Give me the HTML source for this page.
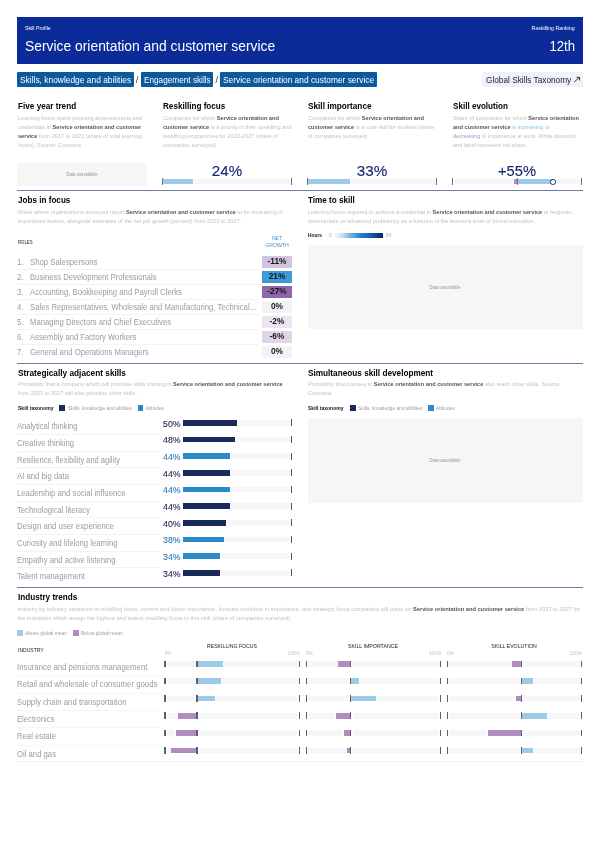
<!DOCTYPE html><html><head><meta charset="utf-8"><title>Skill Profile</title><style>
*{margin:0;padding:0;box-sizing:border-box}
html,body{width:600px;height:848px;background:#fff;overflow:hidden}
body{font-family:"Liberation Sans",sans-serif;position:relative;color:#111}
.abs{position:absolute;white-space:nowrap}
b{font-weight:bold}
.d b{color:#55555a}
</style></head><body>
<div class="abs" style="left:17px;top:17px;width:565.75px;height:46.5px;background:#0b2b98;"></div>
<div class="abs" style="top:25px;font-size:5.3px;line-height:6.36px;color:#fff;left:25px;transform-origin:0 50%;transform:scaleX(0.980);">Skill Profile</div>
<div class="abs" style="top:37px;font-size:15.4px;line-height:18.48px;color:#fff;left:25px;transform-origin:0 50%;transform:scaleX(0.900);">Service orientation and customer service</div>
<div class="abs" style="top:25px;font-size:5.3px;line-height:6.36px;color:#fff;right:25px;transform-origin:100% 50%;transform:scaleX(0.986);">Reskilling Ranking</div>
<div class="abs" style="top:37px;font-size:15.4px;line-height:18.48px;color:#fff;right:25px;transform-origin:100% 50%;transform:scaleX(0.851);">12th</div>
<div class="abs" style="left:17px;top:71.5px;width:117px;height:15.9px;background:#0d599e;border-radius:1px;"></div>
<div class="abs" style="top:75px;font-size:9.3px;line-height:11.16px;color:#fff;left:20px;transform-origin:0 50%;transform:scaleX(0.904);">Skills, knowledge and abilities</div>
<div class="abs" style="top:75px;font-size:9.3px;line-height:11.16px;color:#333;left:-13px;width:300px;text-align:center;transform-origin:50% 50%;">/</div>
<div class="abs" style="left:140.5px;top:71.5px;width:72.75px;height:15.9px;background:#0d599e;border-radius:1px;"></div>
<div class="abs" style="top:75px;font-size:9.3px;line-height:11.16px;color:#fff;left:143.75px;transform-origin:0 50%;transform:scaleX(0.884);">Engagement skills</div>
<div class="abs" style="top:75px;font-size:9.3px;line-height:11.16px;color:#333;left:66.75px;width:300px;text-align:center;transform-origin:50% 50%;">/</div>
<div class="abs" style="left:219.5px;top:71.5px;width:157.5px;height:15.9px;background:#0d599e;border-radius:1px;"></div>
<div class="abs" style="top:75px;font-size:9.3px;line-height:11.16px;color:#fff;left:222.5px;transform-origin:0 50%;transform:scaleX(0.900);">Service orientation and customer service</div>
<div class="abs" style="left:482px;top:71.5px;width:101px;height:15.9px;background:#edf3f9;border-radius:1px;"></div>
<div class="abs" style="top:75px;font-size:9.3px;line-height:11.16px;color:#1e1e22;left:486px;transform-origin:0 50%;transform:scaleX(0.888);">Global Skills Taxonomy</div>
<svg class="abs" style="left:572px;top:75px" width="10" height="9" viewBox="0 0 10 9"><path d="M2.2 6.9 L7.3 2.6 M4.5 2.3 L7.6 2.3 L7.6 5.4" fill="none" stroke="#1e1e22" stroke-width="0.85"/></svg>
<div class="abs" style="top:101px;font-size:8.4px;line-height:10.08px;color:#000;font-weight:bold;left:17.5px;transform-origin:0 50%;transform:scaleX(0.976);">Five year trend</div>
<div class="abs d" style="top:115px;font-size:5.7px;line-height:6.84px;color:#c2c2c6;left:17.5px;transform-origin:0 50%;transform:scaleX(0.985);">Learning hours spent pursuing assessements and</div>
<div class="abs d" style="top:124px;font-size:5.7px;line-height:6.84px;color:#c2c2c6;left:17.5px;transform-origin:0 50%;transform:scaleX(0.985);">credentials in <b>Service orientation and customer</b></div>
<div class="abs d" style="top:133px;font-size:5.7px;line-height:6.84px;color:#c2c2c6;left:17.5px;transform-origin:0 50%;transform:scaleX(0.985);"><b>service</b> from 2017 to 2022 (share of total learning</div>
<div class="abs d" style="top:142px;font-size:5.7px;line-height:6.84px;color:#c2c2c6;left:17.5px;transform-origin:0 50%;transform:scaleX(0.985);">hours). Source: Coursera.</div>
<div class="abs" style="top:101px;font-size:8.4px;line-height:10.08px;color:#000;font-weight:bold;left:162.5px;transform-origin:0 50%;transform:scaleX(0.970);">Reskilling focus</div>
<div class="abs d" style="top:115px;font-size:5.7px;line-height:6.84px;color:#c2c2c6;left:162.5px;transform-origin:0 50%;transform:scaleX(0.985);">Companies for which <b>Service orientation and</b></div>
<div class="abs d" style="top:124px;font-size:5.7px;line-height:6.84px;color:#c2c2c6;left:162.5px;transform-origin:0 50%;transform:scaleX(0.985);"><b>customer service</b> is a priority in their upskilling and</div>
<div class="abs d" style="top:133px;font-size:5.7px;line-height:6.84px;color:#c2c2c6;left:162.5px;transform-origin:0 50%;transform:scaleX(0.985);">reskilling programmes for 2023-2027 (share of</div>
<div class="abs d" style="top:142px;font-size:5.7px;line-height:6.84px;color:#c2c2c6;left:162.5px;transform-origin:0 50%;transform:scaleX(0.985);">companies surveyed)</div>
<div class="abs" style="top:101px;font-size:8.4px;line-height:10.08px;color:#000;font-weight:bold;left:307.5px;transform-origin:0 50%;transform:scaleX(0.982);">Skill importance</div>
<div class="abs d" style="top:115px;font-size:5.7px;line-height:6.84px;color:#c2c2c6;left:307.5px;transform-origin:0 50%;transform:scaleX(0.985);">Companies for which <b>Service orientation and</b></div>
<div class="abs d" style="top:124px;font-size:5.7px;line-height:6.84px;color:#c2c2c6;left:307.5px;transform-origin:0 50%;transform:scaleX(0.985);"><b>customer service</b> is a core skill for workers (share</div>
<div class="abs d" style="top:133px;font-size:5.7px;line-height:6.84px;color:#c2c2c6;left:307.5px;transform-origin:0 50%;transform:scaleX(0.985);">of companies surveyed)</div>
<div class="abs" style="top:101px;font-size:8.4px;line-height:10.08px;color:#000;font-weight:bold;left:452.5px;transform-origin:0 50%;transform:scaleX(0.966);">Skill evolution</div>
<div class="abs d" style="top:115px;font-size:5.7px;line-height:6.84px;color:#c2c2c6;left:452.5px;transform-origin:0 50%;transform:scaleX(0.985);">Share of companies for which <b>Service orientation</b></div>
<div class="abs d" style="top:124px;font-size:5.7px;line-height:6.84px;color:#c2c2c6;left:452.5px;transform-origin:0 50%;transform:scaleX(0.985);"><b>and customer service</b> <span style="color:#8fc3e0">is increasing</span> or</div>
<div class="abs d" style="top:133px;font-size:5.7px;line-height:6.84px;color:#c2c2c6;left:452.5px;transform-origin:0 50%;transform:scaleX(0.985);"><span style="color:#b48fc0">decreasing</span> in importance at work. White diamond</div>
<div class="abs d" style="top:142px;font-size:5.7px;line-height:6.84px;color:#c2c2c6;left:452.5px;transform-origin:0 50%;transform:scaleX(0.985);">and label represent net share.</div>
<div class="abs" style="left:17px;top:162.6px;width:129.8px;height:23.9px;background:#f6f6f7;border-radius:1px;"></div>
<div class="abs" style="top:172px;font-size:4.7px;line-height:5.64px;color:#96969a;left:-68.1px;width:300px;text-align:center;transform-origin:50% 50%;transform:scaleX(0.885);">Data unavailable</div>
<div class="abs" style="top:162px;font-size:15px;line-height:18px;color:#1a2872;left:76.9px;width:300px;text-align:center;transform-origin:50% 50%;transform:scaleX(1.009);-webkit-text-stroke:0.15px #1a2872;">24%</div>
<div class="abs" style="left:162px;top:178.7px;width:129.8px;height:5.7px;background:#f6f6f7;"></div>
<div class="abs" style="left:160.55px;top:178.2px;width:3.7px;height:6.7px;background:#fff;"></div>
<div class="abs" style="left:289.55px;top:178.2px;width:3.7px;height:6.7px;background:#fff;"></div>
<div class="abs" style="left:161px;top:178.2px;width:33.2px;height:6.7px;background:rgba(255,255,255,0.75);"></div>
<div class="abs" style="left:162px;top:178.7px;width:31.2px;height:5.7px;background:#9dcbe7;"></div>
<div class="abs" style="left:161.85px;top:178.2px;width:1.1px;height:6.7px;background:#6a737c;"></div>
<div class="abs" style="left:290.85px;top:178.2px;width:1.1px;height:6.7px;background:#6a737c;"></div>
<div class="abs" style="top:162px;font-size:15px;line-height:18px;color:#1a2872;left:222.25px;width:300px;text-align:center;transform-origin:50% 50%;transform:scaleX(1.016);-webkit-text-stroke:0.15px #1a2872;">33%</div>
<div class="abs" style="left:307.5px;top:178.7px;width:129.5px;height:5.7px;background:#f6f6f7;"></div>
<div class="abs" style="left:306.05px;top:178.2px;width:3.7px;height:6.7px;background:#fff;"></div>
<div class="abs" style="left:434.75px;top:178.2px;width:3.7px;height:6.7px;background:#fff;"></div>
<div class="abs" style="left:306.5px;top:178.2px;width:44.5px;height:6.7px;background:rgba(255,255,255,0.75);"></div>
<div class="abs" style="left:307.5px;top:178.7px;width:42.5px;height:5.7px;background:#9dcbe7;"></div>
<div class="abs" style="left:307.35px;top:178.2px;width:1.1px;height:6.7px;background:#6a737c;"></div>
<div class="abs" style="left:436.05px;top:178.2px;width:1.1px;height:6.7px;background:#6a737c;"></div>
<div class="abs" style="top:162px;font-size:15px;line-height:18px;color:#1a2872;left:367.25px;width:300px;text-align:center;transform-origin:50% 50%;transform:scaleX(0.980);-webkit-text-stroke:0.15px #1a2872;">+55%</div>
<div class="abs" style="left:452.5px;top:178.7px;width:129.5px;height:5.7px;background:#f6f6f7;"></div>
<div class="abs" style="left:451.05px;top:178.2px;width:3.7px;height:6.7px;background:#fff;"></div>
<div class="abs" style="left:515.75px;top:178.2px;width:3.7px;height:6.7px;background:#fff;"></div>
<div class="abs" style="left:579.75px;top:178.2px;width:3.7px;height:6.7px;background:#fff;"></div>
<div class="abs" style="left:513.25px;top:178.2px;width:41.25px;height:6.7px;background:rgba(255,255,255,0.75);"></div>
<div class="abs" style="left:514.25px;top:178.7px;width:3.25px;height:5.7px;background:#b08cc0;"></div>
<div class="abs" style="left:517.5px;top:178.7px;width:36px;height:5.7px;background:#9dcbe7;"></div>
<div class="abs" style="left:452.35px;top:178.2px;width:1.1px;height:6.7px;background:#6a737c;"></div>
<div class="abs" style="left:517.05px;top:178.2px;width:1.1px;height:6.7px;background:#6a737c;"></div>
<div class="abs" style="left:581.05px;top:178.2px;width:1.1px;height:6.7px;background:#6a737c;"></div>
<div class="abs" style="left:550.1px;top:179px;width:5.5px;height:5.5px;border-radius:50%;border:1.5px solid #1b2b78;background:#fff"></div>
<div class="abs" style="left:17px;top:189.5px;width:566px;height:1px;background:#6b7c9e;"></div>
<div class="abs" style="top:195px;font-size:8.4px;line-height:10.08px;color:#000;font-weight:bold;left:17.5px;transform-origin:0 50%;transform:scaleX(0.970);">Jobs in focus</div>
<div class="abs d" style="top:209px;font-size:5.7px;line-height:6.84px;color:#c2c2c6;left:17.5px;transform-origin:0 50%;transform:scaleX(0.985);">Roles where organizations surveyed report <b>Service orientation and customer service</b> to be increasing in</div>
<div class="abs d" style="top:218px;font-size:5.7px;line-height:6.84px;color:#c2c2c6;left:17.5px;transform-origin:0 50%;transform:scaleX(0.985);">importance fastest, alongside estimates of the net job growth (percent) from 2023 to 2027.</div>
<div class="abs" style="top:239px;font-size:5px;line-height:6px;color:#222;left:17.5px;transform-origin:0 50%;transform:scaleX(0.855);">ROLES</div>
<div class="abs" style="top:235px;font-size:5px;line-height:6px;color:#4a90c6;left:127px;width:300px;text-align:center;transform-origin:50% 50%;transform:scaleX(1.020);">NET</div>
<div class="abs" style="top:242px;font-size:5px;line-height:6px;color:#4a90c6;left:127px;width:300px;text-align:center;transform-origin:50% 50%;transform:scaleX(1.032);">GROWTH</div>
<div class="abs" style="top:257px;font-size:8.8px;line-height:10.56px;color:#9c9ca0;left:17px;transform-origin:0 50%;transform:scaleX(0.880);">1.</div>
<div class="abs" style="top:257px;font-size:8.8px;line-height:10.56px;color:#9c9ca0;left:29.5px;transform-origin:0 50%;transform:scaleX(0.884);">Shop Salespersons</div>
<div class="abs" style="left:261.75px;top:255.75px;width:30.5px;height:12px;background:#d3c5df;"></div>
<div class="abs" style="top:256px;font-size:8.6px;line-height:10.32px;color:#16161a;font-weight:bold;left:127px;width:300px;text-align:center;transform-origin:50% 50%;transform:scaleX(0.970);">-11%</div>
<div class="abs" style="left:17px;top:269px;width:242px;height:1px;background:#f3f3f5;"></div>
<div class="abs" style="top:272px;font-size:8.8px;line-height:10.56px;color:#9c9ca0;left:17px;transform-origin:0 50%;transform:scaleX(0.880);">2.</div>
<div class="abs" style="top:272px;font-size:8.8px;line-height:10.56px;color:#9c9ca0;left:29.5px;transform-origin:0 50%;transform:scaleX(0.872);">Business Development Professionals</div>
<div class="abs" style="left:261.75px;top:270.75px;width:30.5px;height:12px;background:#3a9cda;"></div>
<div class="abs" style="top:271px;font-size:8.6px;line-height:10.32px;color:#16161a;font-weight:bold;left:127px;width:300px;text-align:center;transform-origin:50% 50%;transform:scaleX(0.970);">21%</div>
<div class="abs" style="left:17px;top:284px;width:242px;height:1px;background:#f3f3f5;"></div>
<div class="abs" style="top:287px;font-size:8.8px;line-height:10.56px;color:#9c9ca0;left:17px;transform-origin:0 50%;transform:scaleX(0.880);">3.</div>
<div class="abs" style="top:287px;font-size:8.8px;line-height:10.56px;color:#9c9ca0;left:29.5px;transform-origin:0 50%;transform:scaleX(0.878);">Accounting, Bookkeeping and Payroll Clerks</div>
<div class="abs" style="left:261.75px;top:285.75px;width:30.5px;height:12px;background:#8f66ac;"></div>
<div class="abs" style="top:286px;font-size:8.6px;line-height:10.32px;color:#16161a;font-weight:bold;left:127px;width:300px;text-align:center;transform-origin:50% 50%;transform:scaleX(0.970);">-27%</div>
<div class="abs" style="left:17px;top:299px;width:242px;height:1px;background:#f3f3f5;"></div>
<div class="abs" style="top:302px;font-size:8.8px;line-height:10.56px;color:#9c9ca0;left:17px;transform-origin:0 50%;transform:scaleX(0.880);">4.</div>
<div class="abs" style="top:302px;font-size:8.8px;line-height:10.56px;color:#9c9ca0;left:29.5px;transform-origin:0 50%;transform:scaleX(0.876);">Sales Representatives, Wholesale and Manufacturing, Technical…</div>
<div class="abs" style="left:261.75px;top:300.75px;width:30.5px;height:12px;background:#f3f3f5;"></div>
<div class="abs" style="top:301px;font-size:8.6px;line-height:10.32px;color:#16161a;font-weight:bold;left:127px;width:300px;text-align:center;transform-origin:50% 50%;transform:scaleX(0.970);">0%</div>
<div class="abs" style="left:17px;top:314px;width:242px;height:1px;background:#f3f3f5;"></div>
<div class="abs" style="top:317px;font-size:8.8px;line-height:10.56px;color:#9c9ca0;left:17px;transform-origin:0 50%;transform:scaleX(0.880);">5.</div>
<div class="abs" style="top:317px;font-size:8.8px;line-height:10.56px;color:#9c9ca0;left:29.5px;transform-origin:0 50%;transform:scaleX(0.874);">Managing Directors and Chief Executives</div>
<div class="abs" style="left:261.75px;top:315.75px;width:30.5px;height:12px;background:#ebe5f0;"></div>
<div class="abs" style="top:316px;font-size:8.6px;line-height:10.32px;color:#16161a;font-weight:bold;left:127px;width:300px;text-align:center;transform-origin:50% 50%;transform:scaleX(0.970);">-2%</div>
<div class="abs" style="left:17px;top:329px;width:242px;height:1px;background:#f3f3f5;"></div>
<div class="abs" style="top:332px;font-size:8.8px;line-height:10.56px;color:#9c9ca0;left:17px;transform-origin:0 50%;transform:scaleX(0.880);">6.</div>
<div class="abs" style="top:332px;font-size:8.8px;line-height:10.56px;color:#9c9ca0;left:29.5px;transform-origin:0 50%;transform:scaleX(0.872);">Assembly and Factory Workers</div>
<div class="abs" style="left:261.75px;top:330.75px;width:30.5px;height:12px;background:#e1d6e9;"></div>
<div class="abs" style="top:331px;font-size:8.6px;line-height:10.32px;color:#16161a;font-weight:bold;left:127px;width:300px;text-align:center;transform-origin:50% 50%;transform:scaleX(0.970);">-6%</div>
<div class="abs" style="left:17px;top:344px;width:242px;height:1px;background:#f3f3f5;"></div>
<div class="abs" style="top:347px;font-size:8.8px;line-height:10.56px;color:#9c9ca0;left:17px;transform-origin:0 50%;transform:scaleX(0.880);">7.</div>
<div class="abs" style="top:347px;font-size:8.8px;line-height:10.56px;color:#9c9ca0;left:29.5px;transform-origin:0 50%;transform:scaleX(0.878);">General and Operations Managers</div>
<div class="abs" style="left:261.75px;top:345.75px;width:30.5px;height:12px;background:#f3f3f5;"></div>
<div class="abs" style="top:346px;font-size:8.6px;line-height:10.32px;color:#16161a;font-weight:bold;left:127px;width:300px;text-align:center;transform-origin:50% 50%;transform:scaleX(0.970);">0%</div>
<div class="abs" style="top:195px;font-size:8.4px;line-height:10.08px;color:#000;font-weight:bold;left:308px;transform-origin:0 50%;transform:scaleX(0.971);">Time to skill</div>
<div class="abs d" style="top:209px;font-size:5.7px;line-height:6.84px;color:#c2c2c6;left:308px;transform-origin:0 50%;transform:scaleX(0.985);">Learning hours required to achieve a credential in <b>Service orientation and customer service</b> at beginner,</div>
<div class="abs d" style="top:218px;font-size:5.7px;line-height:6.84px;color:#c2c2c6;left:308px;transform-origin:0 50%;transform:scaleX(0.985);">intermediate or advanced proficiency as a function of the learner's level of formal education.</div>
<div class="abs" style="top:232px;font-size:5.4px;line-height:6.48px;color:#111;font-weight:bold;left:308px;transform-origin:0 50%;transform:scaleX(0.897);">Hours</div>
<div class="abs" style="top:232px;font-size:5px;line-height:6px;color:#aaa;left:329px;transform-origin:0 50%;">0</div>
<div class="abs" style="left:333.75px;top:232.5px;width:48.75px;height:5.75px;background:linear-gradient(90deg,#f7fbff 0%,#cfe3f3 15%,#6fb0dc 35%,#2580c6 55%,#1560a8 75%,#0b3a82 90%,#08275e 100%);"></div>
<div class="abs" style="top:232px;font-size:5px;line-height:6px;color:#aaa;left:385.5px;transform-origin:0 50%;">34</div>
<div class="abs" style="left:307.5px;top:245.3px;width:275px;height:83.7px;background:#f6f6f7;border-radius:1px;"></div>
<div class="abs" style="top:285px;font-size:4.7px;line-height:5.64px;color:#96969a;left:295px;width:300px;text-align:center;transform-origin:50% 50%;transform:scaleX(0.885);">Data unavailable</div>
<div class="abs" style="left:17px;top:363px;width:566px;height:1px;background:#6b7c9e;"></div>
<div class="abs" style="top:368px;font-size:8.4px;line-height:10.08px;color:#000;font-weight:bold;left:17.5px;transform-origin:0 50%;transform:scaleX(0.987);">Strategically adjacent skills</div>
<div class="abs d" style="top:381px;font-size:5.7px;line-height:6.84px;color:#c2c2c6;left:17.5px;transform-origin:0 50%;transform:scaleX(0.985);">Probability that a company which will prioritise skills training in <b>Service orientation and customer service</b></div>
<div class="abs d" style="top:390px;font-size:5.7px;line-height:6.84px;color:#c2c2c6;left:17.5px;transform-origin:0 50%;transform:scaleX(0.985);">from 2023 to 2027 will also prioritise other skills.</div>
<div class="abs" style="top:405px;font-size:5.3px;line-height:6.36px;color:#111;font-weight:bold;left:17.5px;transform-origin:0 50%;transform:scaleX(0.949);">Skill taxonomy</div>
<div class="abs" style="left:59.25px;top:405.4px;width:5.8px;height:5.8px;background:#1b2a5c;"></div>
<div class="abs" style="top:406px;font-size:4.8px;line-height:5.76px;color:#a0a0a4;left:67.5px;transform-origin:0 50%;transform:scaleX(1.012);">Skills, knowledge and abilities</div>
<div class="abs" style="left:137.5px;top:405.4px;width:5.8px;height:5.8px;background:#2b8ac8;"></div>
<div class="abs" style="top:406px;font-size:4.8px;line-height:5.76px;color:#a0a0a4;left:145.5px;transform-origin:0 50%;">Attitudes</div>
<div class="abs" style="top:421px;font-size:8.8px;line-height:10.56px;color:#9c9ca0;left:17px;transform-origin:0 50%;transform:scaleX(0.859);">Analytical thinking</div>
<div class="abs" style="top:420px;font-size:8.3px;line-height:9.96px;color:#1b2247;right:419.5px;transform-origin:100% 50%;transform:scaleX(1.053);-webkit-text-stroke:0.1px #1b2247;">50%</div>
<div class="abs" style="left:182.5px;top:420px;width:109px;height:5.75px;background:#f6f6f7;"></div>
<div class="abs" style="left:289.7px;top:419.5px;width:3.6px;height:6.75px;background:#fff;"></div>
<div class="abs" style="left:181.5px;top:419.5px;width:56.5px;height:6.75px;background:rgba(255,255,255,0.75);"></div>
<div class="abs" style="left:182.5px;top:420px;width:54.5px;height:5.75px;background:#1b2a5c;"></div>
<div class="abs" style="left:291px;top:419.4px;width:1px;height:6.95px;background:#555;"></div>
<div class="abs" style="left:17px;top:434px;width:143px;height:1px;background:#f3f3f5;"></div>
<div class="abs" style="top:438px;font-size:8.8px;line-height:10.56px;color:#9c9ca0;left:17px;transform-origin:0 50%;transform:scaleX(0.870);">Creative thinking</div>
<div class="abs" style="top:436px;font-size:8.3px;line-height:9.96px;color:#1b2247;right:419.5px;transform-origin:100% 50%;transform:scaleX(1.053);-webkit-text-stroke:0.1px #1b2247;">48%</div>
<div class="abs" style="left:182.5px;top:436.65px;width:109px;height:5.75px;background:#f6f6f7;"></div>
<div class="abs" style="left:289.7px;top:436.15px;width:3.6px;height:6.75px;background:#fff;"></div>
<div class="abs" style="left:181.5px;top:436.15px;width:54.32px;height:6.75px;background:rgba(255,255,255,0.75);"></div>
<div class="abs" style="left:182.5px;top:436.65px;width:52.32px;height:5.75px;background:#1b2a5c;"></div>
<div class="abs" style="left:291px;top:436.05px;width:1px;height:6.95px;background:#555;"></div>
<div class="abs" style="left:17px;top:450.65px;width:143px;height:1px;background:#f3f3f5;"></div>
<div class="abs" style="top:455px;font-size:8.8px;line-height:10.56px;color:#9c9ca0;left:17px;transform-origin:0 50%;transform:scaleX(0.853);">Resilience, flexibility and agility</div>
<div class="abs" style="top:453px;font-size:8.3px;line-height:9.96px;color:#2a7ab8;right:419.5px;transform-origin:100% 50%;transform:scaleX(1.053);-webkit-text-stroke:0.1px #2a7ab8;">44%</div>
<div class="abs" style="left:182.5px;top:453.3px;width:109px;height:5.75px;background:#f6f6f7;"></div>
<div class="abs" style="left:289.7px;top:452.8px;width:3.6px;height:6.75px;background:#fff;"></div>
<div class="abs" style="left:181.5px;top:452.8px;width:49.96px;height:6.75px;background:rgba(255,255,255,0.75);"></div>
<div class="abs" style="left:182.5px;top:453.3px;width:47.96px;height:5.75px;background:#2b8ac8;"></div>
<div class="abs" style="left:291px;top:452.7px;width:1px;height:6.95px;background:#555;"></div>
<div class="abs" style="left:17px;top:467.3px;width:143px;height:1px;background:#f3f3f5;"></div>
<div class="abs" style="top:471px;font-size:8.8px;line-height:10.56px;color:#9c9ca0;left:17px;transform-origin:0 50%;transform:scaleX(0.878);">AI and big data</div>
<div class="abs" style="top:470px;font-size:8.3px;line-height:9.96px;color:#1b2247;right:419.5px;transform-origin:100% 50%;transform:scaleX(1.053);-webkit-text-stroke:0.1px #1b2247;">44%</div>
<div class="abs" style="left:182.5px;top:469.95px;width:109px;height:5.75px;background:#f6f6f7;"></div>
<div class="abs" style="left:289.7px;top:469.45px;width:3.6px;height:6.75px;background:#fff;"></div>
<div class="abs" style="left:181.5px;top:469.45px;width:49.96px;height:6.75px;background:rgba(255,255,255,0.75);"></div>
<div class="abs" style="left:182.5px;top:469.95px;width:47.96px;height:5.75px;background:#1b2a5c;"></div>
<div class="abs" style="left:291px;top:469.35px;width:1px;height:6.95px;background:#555;"></div>
<div class="abs" style="left:17px;top:483.95px;width:143px;height:1px;background:#f3f3f5;"></div>
<div class="abs" style="top:488px;font-size:8.8px;line-height:10.56px;color:#9c9ca0;left:17px;transform-origin:0 50%;transform:scaleX(0.880);">Leadership and social influence</div>
<div class="abs" style="top:486px;font-size:8.3px;line-height:9.96px;color:#2a7ab8;right:419.5px;transform-origin:100% 50%;transform:scaleX(1.053);-webkit-text-stroke:0.1px #2a7ab8;">44%</div>
<div class="abs" style="left:182.5px;top:486.6px;width:109px;height:5.75px;background:#f6f6f7;"></div>
<div class="abs" style="left:289.7px;top:486.1px;width:3.6px;height:6.75px;background:#fff;"></div>
<div class="abs" style="left:181.5px;top:486.1px;width:49.96px;height:6.75px;background:rgba(255,255,255,0.75);"></div>
<div class="abs" style="left:182.5px;top:486.6px;width:47.96px;height:5.75px;background:#2b8ac8;"></div>
<div class="abs" style="left:291px;top:486px;width:1px;height:6.95px;background:#555;"></div>
<div class="abs" style="left:17px;top:500.6px;width:143px;height:1px;background:#f3f3f5;"></div>
<div class="abs" style="top:505px;font-size:8.8px;line-height:10.56px;color:#9c9ca0;left:17px;transform-origin:0 50%;transform:scaleX(0.873);">Technological literacy</div>
<div class="abs" style="top:503px;font-size:8.3px;line-height:9.96px;color:#1b2247;right:419.5px;transform-origin:100% 50%;transform:scaleX(1.053);-webkit-text-stroke:0.1px #1b2247;">44%</div>
<div class="abs" style="left:182.5px;top:503.25px;width:109px;height:5.75px;background:#f6f6f7;"></div>
<div class="abs" style="left:289.7px;top:502.75px;width:3.6px;height:6.75px;background:#fff;"></div>
<div class="abs" style="left:181.5px;top:502.75px;width:49.96px;height:6.75px;background:rgba(255,255,255,0.75);"></div>
<div class="abs" style="left:182.5px;top:503.25px;width:47.96px;height:5.75px;background:#1b2a5c;"></div>
<div class="abs" style="left:291px;top:502.65px;width:1px;height:6.95px;background:#555;"></div>
<div class="abs" style="left:17px;top:517.25px;width:143px;height:1px;background:#f3f3f5;"></div>
<div class="abs" style="top:521px;font-size:8.8px;line-height:10.56px;color:#9c9ca0;left:17px;transform-origin:0 50%;transform:scaleX(0.885);">Design and user experience</div>
<div class="abs" style="top:520px;font-size:8.3px;line-height:9.96px;color:#1b2247;right:419.5px;transform-origin:100% 50%;transform:scaleX(1.053);-webkit-text-stroke:0.1px #1b2247;">40%</div>
<div class="abs" style="left:182.5px;top:519.9px;width:109px;height:5.75px;background:#f6f6f7;"></div>
<div class="abs" style="left:289.7px;top:519.4px;width:3.6px;height:6.75px;background:#fff;"></div>
<div class="abs" style="left:181.5px;top:519.4px;width:45.6px;height:6.75px;background:rgba(255,255,255,0.75);"></div>
<div class="abs" style="left:182.5px;top:519.9px;width:43.6px;height:5.75px;background:#1b2a5c;"></div>
<div class="abs" style="left:291px;top:519.3px;width:1px;height:6.95px;background:#555;"></div>
<div class="abs" style="left:17px;top:533.9px;width:143px;height:1px;background:#f3f3f5;"></div>
<div class="abs" style="top:538px;font-size:8.8px;line-height:10.56px;color:#9c9ca0;left:17px;transform-origin:0 50%;transform:scaleX(0.871);">Curiosity and lifelong learning</div>
<div class="abs" style="top:536px;font-size:8.3px;line-height:9.96px;color:#2a7ab8;right:419.5px;transform-origin:100% 50%;transform:scaleX(1.053);-webkit-text-stroke:0.1px #2a7ab8;">38%</div>
<div class="abs" style="left:182.5px;top:536.55px;width:109px;height:5.75px;background:#f6f6f7;"></div>
<div class="abs" style="left:289.7px;top:536.05px;width:3.6px;height:6.75px;background:#fff;"></div>
<div class="abs" style="left:181.5px;top:536.05px;width:43.42px;height:6.75px;background:rgba(255,255,255,0.75);"></div>
<div class="abs" style="left:182.5px;top:536.55px;width:41.42px;height:5.75px;background:#2b8ac8;"></div>
<div class="abs" style="left:291px;top:535.95px;width:1px;height:6.95px;background:#555;"></div>
<div class="abs" style="left:17px;top:550.55px;width:143px;height:1px;background:#f3f3f5;"></div>
<div class="abs" style="top:555px;font-size:8.8px;line-height:10.56px;color:#9c9ca0;left:17px;transform-origin:0 50%;transform:scaleX(0.879);">Empathy and active listening</div>
<div class="abs" style="top:553px;font-size:8.3px;line-height:9.96px;color:#2a7ab8;right:419.5px;transform-origin:100% 50%;transform:scaleX(1.053);-webkit-text-stroke:0.1px #2a7ab8;">34%</div>
<div class="abs" style="left:182.5px;top:553.2px;width:109px;height:5.75px;background:#f6f6f7;"></div>
<div class="abs" style="left:289.7px;top:552.7px;width:3.6px;height:6.75px;background:#fff;"></div>
<div class="abs" style="left:181.5px;top:552.7px;width:39.06px;height:6.75px;background:rgba(255,255,255,0.75);"></div>
<div class="abs" style="left:182.5px;top:553.2px;width:37.06px;height:5.75px;background:#2b8ac8;"></div>
<div class="abs" style="left:291px;top:552.6px;width:1px;height:6.95px;background:#555;"></div>
<div class="abs" style="left:17px;top:567.2px;width:143px;height:1px;background:#f3f3f5;"></div>
<div class="abs" style="top:571px;font-size:8.8px;line-height:10.56px;color:#9c9ca0;left:17px;transform-origin:0 50%;transform:scaleX(0.880);">Talent management</div>
<div class="abs" style="top:570px;font-size:8.3px;line-height:9.96px;color:#1b2247;right:419.5px;transform-origin:100% 50%;transform:scaleX(1.053);-webkit-text-stroke:0.1px #1b2247;">34%</div>
<div class="abs" style="left:182.5px;top:569.85px;width:109px;height:5.75px;background:#f6f6f7;"></div>
<div class="abs" style="left:289.7px;top:569.35px;width:3.6px;height:6.75px;background:#fff;"></div>
<div class="abs" style="left:181.5px;top:569.35px;width:39.06px;height:6.75px;background:rgba(255,255,255,0.75);"></div>
<div class="abs" style="left:182.5px;top:569.85px;width:37.06px;height:5.75px;background:#1b2a5c;"></div>
<div class="abs" style="left:291px;top:569.25px;width:1px;height:6.95px;background:#555;"></div>
<div class="abs" style="top:368px;font-size:8.4px;line-height:10.08px;color:#000;font-weight:bold;left:308px;transform-origin:0 50%;transform:scaleX(0.981);">Simultaneous skill development</div>
<div class="abs d" style="top:381px;font-size:5.7px;line-height:6.84px;color:#c2c2c6;left:308px;transform-origin:0 50%;transform:scaleX(0.985);">Probability that courses in <b>Service orientation and customer service</b> also teach other skills. Source:</div>
<div class="abs d" style="top:390px;font-size:5.7px;line-height:6.84px;color:#c2c2c6;left:308px;transform-origin:0 50%;transform:scaleX(0.985);">Coursera.</div>
<div class="abs" style="top:405px;font-size:5.3px;line-height:6.36px;color:#111;font-weight:bold;left:308px;transform-origin:0 50%;transform:scaleX(0.949);">Skill taxonomy</div>
<div class="abs" style="left:349.75px;top:405.4px;width:5.8px;height:5.8px;background:#1b2a5c;"></div>
<div class="abs" style="top:406px;font-size:4.8px;line-height:5.76px;color:#a0a0a4;left:358px;transform-origin:0 50%;transform:scaleX(1.012);">Skills, knowledge and abilities</div>
<div class="abs" style="left:428px;top:405.4px;width:5.8px;height:5.8px;background:#2b8ac8;"></div>
<div class="abs" style="top:406px;font-size:4.8px;line-height:5.76px;color:#a0a0a4;left:436px;transform-origin:0 50%;">Attitudes</div>
<div class="abs" style="left:307.5px;top:418.4px;width:275px;height:84.6px;background:#f6f6f7;border-radius:1px;"></div>
<div class="abs" style="top:458px;font-size:4.7px;line-height:5.64px;color:#96969a;left:295px;width:300px;text-align:center;transform-origin:50% 50%;transform:scaleX(0.885);">Data unavailable</div>
<div class="abs" style="left:17px;top:587px;width:566px;height:1px;background:#6b7c9e;"></div>
<div class="abs" style="top:592px;font-size:8.4px;line-height:10.08px;color:#000;font-weight:bold;left:17.5px;transform-origin:0 50%;transform:scaleX(0.973);">Industry trends</div>
<div class="abs d" style="top:606px;font-size:5.7px;line-height:6.84px;color:#c2c2c6;left:17.5px;transform-origin:0 50%;">Industry by industry variations in reskilling focus, current and future importance, forecast evolution in importance, and strategic focus companies will place on <b>Service orientation and customer service</b> from 2023 to 2027 for</div>
<div class="abs d" style="top:615px;font-size:5.7px;line-height:6.84px;color:#c2c2c6;left:17.5px;transform-origin:0 50%;">the industries which assign the highest and lowest reskilling focus to this skill (share of companies surveyed).</div>
<div class="abs" style="left:17px;top:630px;width:5.6px;height:5.6px;background:#9dcbe7;"></div>
<div class="abs" style="top:631px;font-size:4.8px;line-height:5.76px;color:#a0a0a4;left:25px;transform-origin:0 50%;transform:scaleX(1.022);">Above global mean</div>
<div class="abs" style="left:73px;top:630px;width:5.6px;height:5.6px;background:#b08cc0;"></div>
<div class="abs" style="top:631px;font-size:4.8px;line-height:5.76px;color:#a0a0a4;left:80.75px;transform-origin:0 50%;transform:scaleX(1.029);">Below global mean</div>
<div class="abs" style="top:647px;font-size:5px;line-height:6px;color:#222;left:17.5px;transform-origin:0 50%;transform:scaleX(1.011);">INDUSTRY</div>
<div class="abs" style="top:643px;font-size:5px;line-height:6px;color:#222;left:82.12px;width:300px;text-align:center;transform-origin:50% 50%;transform:scaleX(1.034);">RESKILLING FOCUS</div>
<div class="abs" style="top:651px;font-size:4.8px;line-height:5.76px;color:#c2c2c6;left:164.7px;transform-origin:0 50%;">0%</div>
<div class="abs" style="top:651px;font-size:4.8px;line-height:5.76px;color:#c2c2c6;right:300.25px;transform-origin:100% 50%;">100%</div>
<div class="abs" style="top:643px;font-size:5px;line-height:6px;color:#222;left:223.48px;width:300px;text-align:center;transform-origin:50% 50%;transform:scaleX(1.048);">SKILL IMPORTANCE</div>
<div class="abs" style="top:651px;font-size:4.8px;line-height:5.76px;color:#c2c2c6;left:305.95px;transform-origin:0 50%;">0%</div>
<div class="abs" style="top:651px;font-size:4.8px;line-height:5.76px;color:#c2c2c6;right:158.8px;transform-origin:100% 50%;">100%</div>
<div class="abs" style="top:643px;font-size:5px;line-height:6px;color:#222;left:364.4px;width:300px;text-align:center;transform-origin:50% 50%;transform:scaleX(1.036);">SKILL EVOLUTION</div>
<div class="abs" style="top:651px;font-size:4.8px;line-height:5.76px;color:#c2c2c6;left:447px;transform-origin:0 50%;">0%</div>
<div class="abs" style="top:651px;font-size:4.8px;line-height:5.76px;color:#c2c2c6;right:18px;transform-origin:100% 50%;">110%</div>
<div class="abs" style="top:662px;font-size:8.8px;line-height:10.56px;color:#9c9ca0;left:17px;transform-origin:0 50%;transform:scaleX(0.886);">Insurance and pensions management</div>
<div class="abs" style="left:17px;top:675.3px;width:144px;height:1px;background:#f5f5f7;"></div>
<div class="abs" style="left:165px;top:660.9px;width:134.25px;height:5.8px;background:#f6f6f7;"></div>
<div class="abs" style="left:163.05px;top:660.4px;width:3.9px;height:6.8px;background:#fff;"></div>
<div class="abs" style="left:195.05px;top:660.4px;width:3.9px;height:6.8px;background:#fff;"></div>
<div class="abs" style="left:297.3px;top:660.4px;width:3.9px;height:6.8px;background:#fff;"></div>
<div class="abs" style="left:196px;top:660.4px;width:27.5px;height:6.8px;background:rgba(255,255,255,0.75);"></div>
<div class="abs" style="left:197px;top:660.9px;width:25.5px;height:5.8px;background:#9dcbe7;"></div>
<div class="abs" style="left:164.35px;top:660.5px;width:1.3px;height:6.6px;background:#5c6068;"></div>
<div class="abs" style="left:196.35px;top:660.5px;width:1.3px;height:6.6px;background:#5c6068;"></div>
<div class="abs" style="left:298.6px;top:660.5px;width:1.3px;height:6.6px;background:#5c6068;"></div>
<div class="abs" style="left:306.25px;top:660.9px;width:134.45px;height:5.8px;background:#f6f6f7;"></div>
<div class="abs" style="left:304.3px;top:660.4px;width:3.9px;height:6.8px;background:#fff;"></div>
<div class="abs" style="left:348.8px;top:660.4px;width:3.9px;height:6.8px;background:#fff;"></div>
<div class="abs" style="left:438.75px;top:660.4px;width:3.9px;height:6.8px;background:#fff;"></div>
<div class="abs" style="left:337.25px;top:660.4px;width:14.5px;height:6.8px;background:rgba(255,255,255,0.75);"></div>
<div class="abs" style="left:338.25px;top:660.9px;width:12.5px;height:5.8px;background:#b08cc0;"></div>
<div class="abs" style="left:305.6px;top:660.5px;width:1.3px;height:6.6px;background:#5c6068;"></div>
<div class="abs" style="left:350.1px;top:660.5px;width:1.3px;height:6.6px;background:#5c6068;"></div>
<div class="abs" style="left:440.05px;top:660.5px;width:1.3px;height:6.6px;background:#5c6068;"></div>
<div class="abs" style="left:447.3px;top:660.9px;width:134.2px;height:5.8px;background:#f6f6f7;"></div>
<div class="abs" style="left:445.35px;top:660.4px;width:3.9px;height:6.8px;background:#fff;"></div>
<div class="abs" style="left:519.55px;top:660.4px;width:3.9px;height:6.8px;background:#fff;"></div>
<div class="abs" style="left:579.55px;top:660.4px;width:3.9px;height:6.8px;background:#fff;"></div>
<div class="abs" style="left:511.1px;top:660.4px;width:11.4px;height:6.8px;background:rgba(255,255,255,0.75);"></div>
<div class="abs" style="left:512.1px;top:660.9px;width:9.4px;height:5.8px;background:#b08cc0;"></div>
<div class="abs" style="left:446.65px;top:660.5px;width:1.3px;height:6.6px;background:#5c6068;"></div>
<div class="abs" style="left:520.85px;top:660.5px;width:1.3px;height:6.6px;background:#5c6068;"></div>
<div class="abs" style="left:580.85px;top:660.5px;width:1.3px;height:6.6px;background:#5c6068;"></div>
<div class="abs" style="top:679px;font-size:8.8px;line-height:10.56px;color:#9c9ca0;left:17px;transform-origin:0 50%;transform:scaleX(0.886);">Retail and wholesale of consumer goods</div>
<div class="abs" style="left:17px;top:692.63px;width:144px;height:1px;background:#f5f5f7;"></div>
<div class="abs" style="left:165px;top:678.23px;width:134.25px;height:5.8px;background:#f6f6f7;"></div>
<div class="abs" style="left:163.05px;top:677.73px;width:3.9px;height:6.8px;background:#fff;"></div>
<div class="abs" style="left:195.05px;top:677.73px;width:3.9px;height:6.8px;background:#fff;"></div>
<div class="abs" style="left:297.3px;top:677.73px;width:3.9px;height:6.8px;background:#fff;"></div>
<div class="abs" style="left:196px;top:677.73px;width:26.25px;height:6.8px;background:rgba(255,255,255,0.75);"></div>
<div class="abs" style="left:197px;top:678.23px;width:24.25px;height:5.8px;background:#9dcbe7;"></div>
<div class="abs" style="left:164.35px;top:677.83px;width:1.3px;height:6.6px;background:#5c6068;"></div>
<div class="abs" style="left:196.35px;top:677.83px;width:1.3px;height:6.6px;background:#5c6068;"></div>
<div class="abs" style="left:298.6px;top:677.83px;width:1.3px;height:6.6px;background:#5c6068;"></div>
<div class="abs" style="left:306.25px;top:678.23px;width:134.45px;height:5.8px;background:#f6f6f7;"></div>
<div class="abs" style="left:304.3px;top:677.73px;width:3.9px;height:6.8px;background:#fff;"></div>
<div class="abs" style="left:348.8px;top:677.73px;width:3.9px;height:6.8px;background:#fff;"></div>
<div class="abs" style="left:438.75px;top:677.73px;width:3.9px;height:6.8px;background:#fff;"></div>
<div class="abs" style="left:349.75px;top:677.73px;width:10px;height:6.8px;background:rgba(255,255,255,0.75);"></div>
<div class="abs" style="left:350.75px;top:678.23px;width:8px;height:5.8px;background:#9dcbe7;"></div>
<div class="abs" style="left:305.6px;top:677.83px;width:1.3px;height:6.6px;background:#5c6068;"></div>
<div class="abs" style="left:350.1px;top:677.83px;width:1.3px;height:6.6px;background:#5c6068;"></div>
<div class="abs" style="left:440.05px;top:677.83px;width:1.3px;height:6.6px;background:#5c6068;"></div>
<div class="abs" style="left:447.3px;top:678.23px;width:134.2px;height:5.8px;background:#f6f6f7;"></div>
<div class="abs" style="left:445.35px;top:677.73px;width:3.9px;height:6.8px;background:#fff;"></div>
<div class="abs" style="left:519.55px;top:677.73px;width:3.9px;height:6.8px;background:#fff;"></div>
<div class="abs" style="left:579.55px;top:677.73px;width:3.9px;height:6.8px;background:#fff;"></div>
<div class="abs" style="left:520.5px;top:677.73px;width:13.2px;height:6.8px;background:rgba(255,255,255,0.75);"></div>
<div class="abs" style="left:521.5px;top:678.23px;width:11.2px;height:5.8px;background:#9dcbe7;"></div>
<div class="abs" style="left:446.65px;top:677.83px;width:1.3px;height:6.6px;background:#5c6068;"></div>
<div class="abs" style="left:520.85px;top:677.83px;width:1.3px;height:6.6px;background:#5c6068;"></div>
<div class="abs" style="left:580.85px;top:677.83px;width:1.3px;height:6.6px;background:#5c6068;"></div>
<div class="abs" style="top:697px;font-size:8.8px;line-height:10.56px;color:#9c9ca0;left:17px;transform-origin:0 50%;transform:scaleX(0.885);">Supply chain and transportation</div>
<div class="abs" style="left:17px;top:709.96px;width:144px;height:1px;background:#f5f5f7;"></div>
<div class="abs" style="left:165px;top:695.56px;width:134.25px;height:5.8px;background:#f6f6f7;"></div>
<div class="abs" style="left:163.05px;top:695.06px;width:3.9px;height:6.8px;background:#fff;"></div>
<div class="abs" style="left:195.05px;top:695.06px;width:3.9px;height:6.8px;background:#fff;"></div>
<div class="abs" style="left:297.3px;top:695.06px;width:3.9px;height:6.8px;background:#fff;"></div>
<div class="abs" style="left:196px;top:695.06px;width:19.5px;height:6.8px;background:rgba(255,255,255,0.75);"></div>
<div class="abs" style="left:197px;top:695.56px;width:17.5px;height:5.8px;background:#9dcbe7;"></div>
<div class="abs" style="left:164.35px;top:695.16px;width:1.3px;height:6.6px;background:#5c6068;"></div>
<div class="abs" style="left:196.35px;top:695.16px;width:1.3px;height:6.6px;background:#5c6068;"></div>
<div class="abs" style="left:298.6px;top:695.16px;width:1.3px;height:6.6px;background:#5c6068;"></div>
<div class="abs" style="left:306.25px;top:695.56px;width:134.45px;height:5.8px;background:#f6f6f7;"></div>
<div class="abs" style="left:304.3px;top:695.06px;width:3.9px;height:6.8px;background:#fff;"></div>
<div class="abs" style="left:348.8px;top:695.06px;width:3.9px;height:6.8px;background:#fff;"></div>
<div class="abs" style="left:438.75px;top:695.06px;width:3.9px;height:6.8px;background:#fff;"></div>
<div class="abs" style="left:349.75px;top:695.06px;width:27px;height:6.8px;background:rgba(255,255,255,0.75);"></div>
<div class="abs" style="left:350.75px;top:695.56px;width:25px;height:5.8px;background:#9dcbe7;"></div>
<div class="abs" style="left:305.6px;top:695.16px;width:1.3px;height:6.6px;background:#5c6068;"></div>
<div class="abs" style="left:350.1px;top:695.16px;width:1.3px;height:6.6px;background:#5c6068;"></div>
<div class="abs" style="left:440.05px;top:695.16px;width:1.3px;height:6.6px;background:#5c6068;"></div>
<div class="abs" style="left:447.3px;top:695.56px;width:134.2px;height:5.8px;background:#f6f6f7;"></div>
<div class="abs" style="left:445.35px;top:695.06px;width:3.9px;height:6.8px;background:#fff;"></div>
<div class="abs" style="left:519.55px;top:695.06px;width:3.9px;height:6.8px;background:#fff;"></div>
<div class="abs" style="left:579.55px;top:695.06px;width:3.9px;height:6.8px;background:#fff;"></div>
<div class="abs" style="left:514.9px;top:695.06px;width:7.6px;height:6.8px;background:rgba(255,255,255,0.75);"></div>
<div class="abs" style="left:515.9px;top:695.56px;width:5.6px;height:5.8px;background:#b08cc0;"></div>
<div class="abs" style="left:446.65px;top:695.16px;width:1.3px;height:6.6px;background:#5c6068;"></div>
<div class="abs" style="left:520.85px;top:695.16px;width:1.3px;height:6.6px;background:#5c6068;"></div>
<div class="abs" style="left:580.85px;top:695.16px;width:1.3px;height:6.6px;background:#5c6068;"></div>
<div class="abs" style="top:714px;font-size:8.8px;line-height:10.56px;color:#9c9ca0;left:17px;transform-origin:0 50%;transform:scaleX(0.871);">Electronics</div>
<div class="abs" style="left:17px;top:727.29px;width:144px;height:1px;background:#f5f5f7;"></div>
<div class="abs" style="left:165px;top:712.89px;width:134.25px;height:5.8px;background:#f6f6f7;"></div>
<div class="abs" style="left:163.05px;top:712.39px;width:3.9px;height:6.8px;background:#fff;"></div>
<div class="abs" style="left:195.05px;top:712.39px;width:3.9px;height:6.8px;background:#fff;"></div>
<div class="abs" style="left:297.3px;top:712.39px;width:3.9px;height:6.8px;background:#fff;"></div>
<div class="abs" style="left:177px;top:712.39px;width:21px;height:6.8px;background:rgba(255,255,255,0.75);"></div>
<div class="abs" style="left:178px;top:712.89px;width:19px;height:5.8px;background:#b08cc0;"></div>
<div class="abs" style="left:164.35px;top:712.49px;width:1.3px;height:6.6px;background:#5c6068;"></div>
<div class="abs" style="left:196.35px;top:712.49px;width:1.3px;height:6.6px;background:#5c6068;"></div>
<div class="abs" style="left:298.6px;top:712.49px;width:1.3px;height:6.6px;background:#5c6068;"></div>
<div class="abs" style="left:306.25px;top:712.89px;width:134.45px;height:5.8px;background:#f6f6f7;"></div>
<div class="abs" style="left:304.3px;top:712.39px;width:3.9px;height:6.8px;background:#fff;"></div>
<div class="abs" style="left:348.8px;top:712.39px;width:3.9px;height:6.8px;background:#fff;"></div>
<div class="abs" style="left:438.75px;top:712.39px;width:3.9px;height:6.8px;background:#fff;"></div>
<div class="abs" style="left:335.25px;top:712.39px;width:16.5px;height:6.8px;background:rgba(255,255,255,0.75);"></div>
<div class="abs" style="left:336.25px;top:712.89px;width:14.5px;height:5.8px;background:#b08cc0;"></div>
<div class="abs" style="left:305.6px;top:712.49px;width:1.3px;height:6.6px;background:#5c6068;"></div>
<div class="abs" style="left:350.1px;top:712.49px;width:1.3px;height:6.6px;background:#5c6068;"></div>
<div class="abs" style="left:440.05px;top:712.49px;width:1.3px;height:6.6px;background:#5c6068;"></div>
<div class="abs" style="left:447.3px;top:712.89px;width:134.2px;height:5.8px;background:#f6f6f7;"></div>
<div class="abs" style="left:445.35px;top:712.39px;width:3.9px;height:6.8px;background:#fff;"></div>
<div class="abs" style="left:519.55px;top:712.39px;width:3.9px;height:6.8px;background:#fff;"></div>
<div class="abs" style="left:579.55px;top:712.39px;width:3.9px;height:6.8px;background:#fff;"></div>
<div class="abs" style="left:520.5px;top:712.39px;width:27.8px;height:6.8px;background:rgba(255,255,255,0.75);"></div>
<div class="abs" style="left:521.5px;top:712.89px;width:25.8px;height:5.8px;background:#9dcbe7;"></div>
<div class="abs" style="left:446.65px;top:712.49px;width:1.3px;height:6.6px;background:#5c6068;"></div>
<div class="abs" style="left:520.85px;top:712.49px;width:1.3px;height:6.6px;background:#5c6068;"></div>
<div class="abs" style="left:580.85px;top:712.49px;width:1.3px;height:6.6px;background:#5c6068;"></div>
<div class="abs" style="top:731px;font-size:8.8px;line-height:10.56px;color:#9c9ca0;left:17px;transform-origin:0 50%;transform:scaleX(0.876);">Real estate</div>
<div class="abs" style="left:17px;top:744.62px;width:144px;height:1px;background:#f5f5f7;"></div>
<div class="abs" style="left:165px;top:730.22px;width:134.25px;height:5.8px;background:#f6f6f7;"></div>
<div class="abs" style="left:163.05px;top:729.72px;width:3.9px;height:6.8px;background:#fff;"></div>
<div class="abs" style="left:195.05px;top:729.72px;width:3.9px;height:6.8px;background:#fff;"></div>
<div class="abs" style="left:297.3px;top:729.72px;width:3.9px;height:6.8px;background:#fff;"></div>
<div class="abs" style="left:174.5px;top:729.72px;width:23.5px;height:6.8px;background:rgba(255,255,255,0.75);"></div>
<div class="abs" style="left:175.5px;top:730.22px;width:21.5px;height:5.8px;background:#b08cc0;"></div>
<div class="abs" style="left:164.35px;top:729.82px;width:1.3px;height:6.6px;background:#5c6068;"></div>
<div class="abs" style="left:196.35px;top:729.82px;width:1.3px;height:6.6px;background:#5c6068;"></div>
<div class="abs" style="left:298.6px;top:729.82px;width:1.3px;height:6.6px;background:#5c6068;"></div>
<div class="abs" style="left:306.25px;top:730.22px;width:134.45px;height:5.8px;background:#f6f6f7;"></div>
<div class="abs" style="left:304.3px;top:729.72px;width:3.9px;height:6.8px;background:#fff;"></div>
<div class="abs" style="left:348.8px;top:729.72px;width:3.9px;height:6.8px;background:#fff;"></div>
<div class="abs" style="left:438.75px;top:729.72px;width:3.9px;height:6.8px;background:#fff;"></div>
<div class="abs" style="left:342.75px;top:729.72px;width:9px;height:6.8px;background:rgba(255,255,255,0.75);"></div>
<div class="abs" style="left:343.75px;top:730.22px;width:7px;height:5.8px;background:#b08cc0;"></div>
<div class="abs" style="left:305.6px;top:729.82px;width:1.3px;height:6.6px;background:#5c6068;"></div>
<div class="abs" style="left:350.1px;top:729.82px;width:1.3px;height:6.6px;background:#5c6068;"></div>
<div class="abs" style="left:440.05px;top:729.82px;width:1.3px;height:6.6px;background:#5c6068;"></div>
<div class="abs" style="left:447.3px;top:730.22px;width:134.2px;height:5.8px;background:#f6f6f7;"></div>
<div class="abs" style="left:445.35px;top:729.72px;width:3.9px;height:6.8px;background:#fff;"></div>
<div class="abs" style="left:519.55px;top:729.72px;width:3.9px;height:6.8px;background:#fff;"></div>
<div class="abs" style="left:579.55px;top:729.72px;width:3.9px;height:6.8px;background:#fff;"></div>
<div class="abs" style="left:487.1px;top:729.72px;width:35.4px;height:6.8px;background:rgba(255,255,255,0.75);"></div>
<div class="abs" style="left:488.1px;top:730.22px;width:33.4px;height:5.8px;background:#b08cc0;"></div>
<div class="abs" style="left:446.65px;top:729.82px;width:1.3px;height:6.6px;background:#5c6068;"></div>
<div class="abs" style="left:520.85px;top:729.82px;width:1.3px;height:6.6px;background:#5c6068;"></div>
<div class="abs" style="left:580.85px;top:729.82px;width:1.3px;height:6.6px;background:#5c6068;"></div>
<div class="abs" style="top:749px;font-size:8.8px;line-height:10.56px;color:#9c9ca0;left:17px;transform-origin:0 50%;transform:scaleX(0.876);">Oil and gas</div>
<div class="abs" style="left:165px;top:747.55px;width:134.25px;height:5.8px;background:#f6f6f7;"></div>
<div class="abs" style="left:163.05px;top:747.05px;width:3.9px;height:6.8px;background:#fff;"></div>
<div class="abs" style="left:195.05px;top:747.05px;width:3.9px;height:6.8px;background:#fff;"></div>
<div class="abs" style="left:297.3px;top:747.05px;width:3.9px;height:6.8px;background:#fff;"></div>
<div class="abs" style="left:169.75px;top:747.05px;width:28.25px;height:6.8px;background:rgba(255,255,255,0.75);"></div>
<div class="abs" style="left:170.75px;top:747.55px;width:26.25px;height:5.8px;background:#b08cc0;"></div>
<div class="abs" style="left:164.35px;top:747.15px;width:1.3px;height:6.6px;background:#5c6068;"></div>
<div class="abs" style="left:196.35px;top:747.15px;width:1.3px;height:6.6px;background:#5c6068;"></div>
<div class="abs" style="left:298.6px;top:747.15px;width:1.3px;height:6.6px;background:#5c6068;"></div>
<div class="abs" style="left:306.25px;top:747.55px;width:134.45px;height:5.8px;background:#f6f6f7;"></div>
<div class="abs" style="left:304.3px;top:747.05px;width:3.9px;height:6.8px;background:#fff;"></div>
<div class="abs" style="left:348.8px;top:747.05px;width:3.9px;height:6.8px;background:#fff;"></div>
<div class="abs" style="left:438.75px;top:747.05px;width:3.9px;height:6.8px;background:#fff;"></div>
<div class="abs" style="left:346px;top:747.05px;width:5.75px;height:6.8px;background:rgba(255,255,255,0.75);"></div>
<div class="abs" style="left:347px;top:747.55px;width:3.75px;height:5.8px;background:#b08cc0;"></div>
<div class="abs" style="left:305.6px;top:747.15px;width:1.3px;height:6.6px;background:#5c6068;"></div>
<div class="abs" style="left:350.1px;top:747.15px;width:1.3px;height:6.6px;background:#5c6068;"></div>
<div class="abs" style="left:440.05px;top:747.15px;width:1.3px;height:6.6px;background:#5c6068;"></div>
<div class="abs" style="left:447.3px;top:747.55px;width:134.2px;height:5.8px;background:#f6f6f7;"></div>
<div class="abs" style="left:445.35px;top:747.05px;width:3.9px;height:6.8px;background:#fff;"></div>
<div class="abs" style="left:519.55px;top:747.05px;width:3.9px;height:6.8px;background:#fff;"></div>
<div class="abs" style="left:579.55px;top:747.05px;width:3.9px;height:6.8px;background:#fff;"></div>
<div class="abs" style="left:520.5px;top:747.05px;width:13.2px;height:6.8px;background:rgba(255,255,255,0.75);"></div>
<div class="abs" style="left:521.5px;top:747.55px;width:11.2px;height:5.8px;background:#9dcbe7;"></div>
<div class="abs" style="left:446.65px;top:747.15px;width:1.3px;height:6.6px;background:#5c6068;"></div>
<div class="abs" style="left:520.85px;top:747.15px;width:1.3px;height:6.6px;background:#5c6068;"></div>
<div class="abs" style="left:580.85px;top:747.15px;width:1.3px;height:6.6px;background:#5c6068;"></div>
<div class="abs" style="left:17px;top:761px;width:566px;height:1px;background:#f3f3f5;"></div>
</body></html>
